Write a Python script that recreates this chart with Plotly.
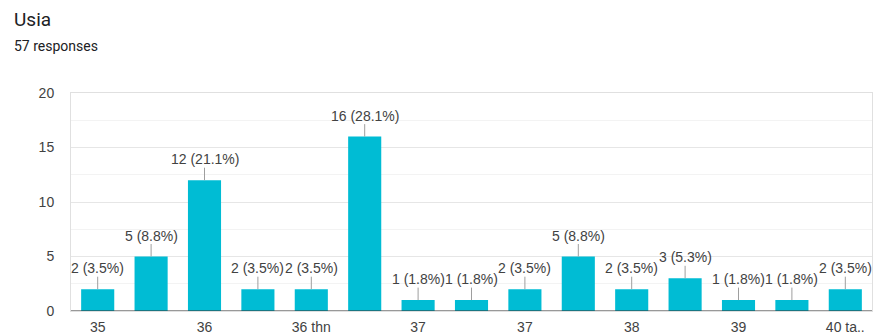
import plotly.graph_objects as go

tick_labels = ["35", "", "36", "", "36 thn", "", "37", "", "37", "", "38", "", "39", "", "40 ta.."]
counts = [2, 5, 12, 2, 2, 16, 1, 1, 2, 5, 2, 3, 1, 1, 2]
total_responses = 57
title_text = "Usia"
subtitle_text = "57 responses"

xs = list(range(len(counts)))
labels = [f"{c} ({c / total_responses * 100:.1f}%)" for c in counts]

L, R, T, B = 71, 3, 93, 25
W, H = 875, 336
plot_h = H - T - B
plot_w = W - L - R


def px_to_paper(px, py):
    return (px - L) / plot_w, (H - B - py) / plot_h


fig = go.Figure()
fig.add_trace(go.Bar(
    x=xs, y=counts, width=0.62,
    marker=dict(color="#00bcd4", line=dict(width=0)),
    hoverinfo="skip",
))

for x, c, t in zip(xs, counts, labels):
    fig.add_annotation(
        x=x, y=c, xref="x", yref="y", text=t,
        showarrow=True, arrowhead=0, arrowwidth=1, arrowcolor="#9e9e9e",
        ax=0, ay=-21, standoff=0, borderpad=0,
        font=dict(family="Liberation Sans, Arial", size=14, color="#424242"),
    )

tx, ty = px_to_paper(12, 20)
fig.add_annotation(x=tx, y=ty, xref="paper", yref="paper", xanchor="left", yanchor="middle",
                   text=title_text, showarrow=False,
                   font=dict(family="Roboto, Arial", size=19, color="#202124"))
sx, sy = px_to_paper(12, 46)
fig.add_annotation(x=sx, y=sy, xref="paper", yref="paper", xanchor="left", yanchor="middle",
                   text=subtitle_text, showarrow=False,
                   font=dict(family="Roboto, Arial", size=14, color="#202124"))

fig.update_layout(
    width=W, height=H,
    margin=dict(l=L, r=R, t=T, b=B, autoexpand=False),
    paper_bgcolor="white", plot_bgcolor="white",
    showlegend=False,
)

fig.update_xaxes(
    range=[-0.5, len(counts) - 0.5], automargin=False,
    tickmode="array", tickvals=xs, ticktext=tick_labels,
    showgrid=False, ticks="", zeroline=False, ticklabelstandoff=3,
    showline=True, linecolor="#e0e0e0", linewidth=1, mirror=True,
    tickfont=dict(family="Liberation Sans, Arial", size=14, color="#424242"),
)
fig.update_yaxes(
    range=[0, 20], tickvals=[0, 5, 10, 15, 20], automargin=False,
    showgrid=True, gridcolor="#e6e6e6", gridwidth=1,
    minor=dict(dtick=2.5, showgrid=True, gridcolor="#f3f3f3", gridwidth=1, tick0=0),
    zeroline=False, ticks="", ticklabelstandoff=13,
    showline=True, linecolor="#e0e0e0", linewidth=1, mirror=True,
    tickfont=dict(family="Liberation Sans, Arial", size=14, color="#424242"),
)
fig.add_shape(type="line", xref="paper", yref="y", x0=0, x1=1, y0=0, y1=0,
              line=dict(color="#333333", width=1))

fig.write_html("out.html")
